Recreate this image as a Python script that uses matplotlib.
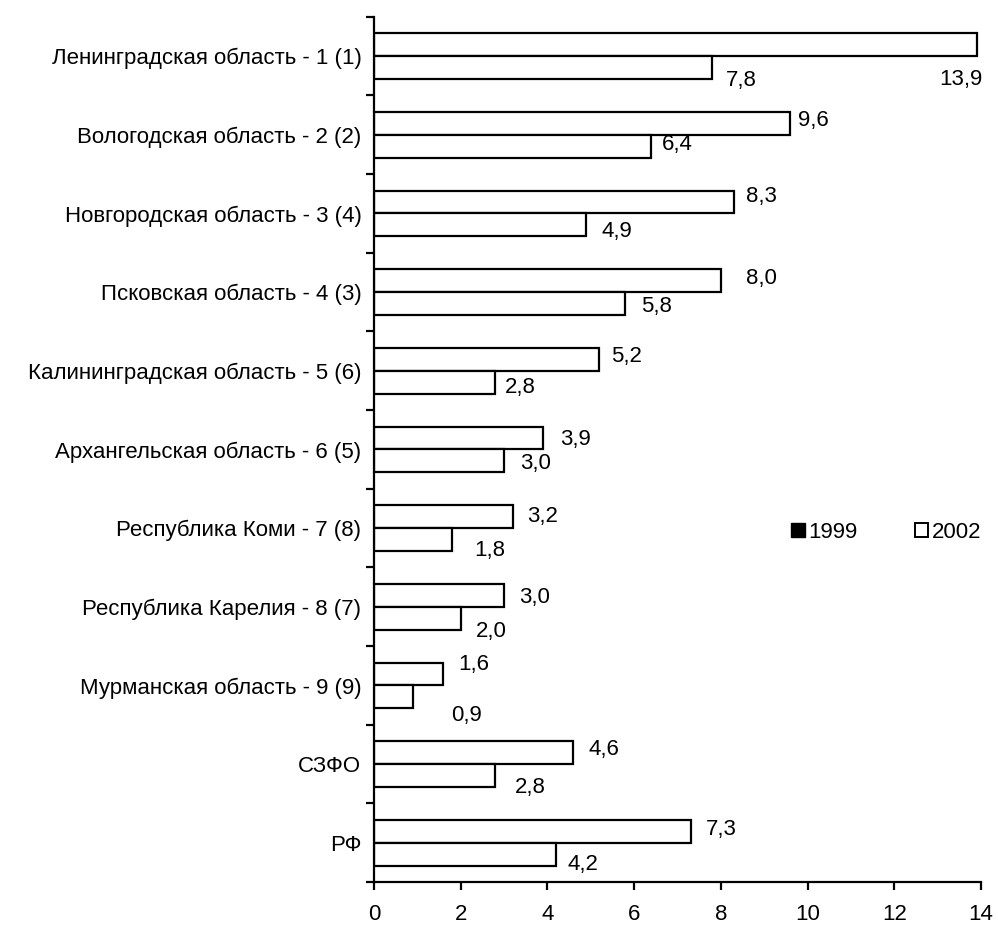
import matplotlib
matplotlib.use('Agg')
import matplotlib.pyplot as plt
from matplotlib.patches import Patch
import numpy as np

plt.rcParams['font.family'] = ['Liberation Sans', 'DejaVu Sans']

regions = ['Ленинградская область - 1 (1)', 'Вологодская область - 2 (2)',
           'Новгородская область - 3 (4)', 'Псковская область - 4 (3)',
           'Калининградская область - 5 (6)', 'Архангельская область - 6 (5)',
           'Республика Коми - 7 (8)', 'Республика Карелия - 8 (7)',
           'Мурманская область - 9 (9)', 'СЗФО', 'РФ']
v2002 = [13.9, 9.6, 8.3, 8.0, 5.2, 3.9, 3.2, 3.0, 1.6, 4.6, 7.3]
v1999 = [7.8, 6.4, 4.9, 5.8, 2.8, 3.0, 1.8, 2.0, 0.9, 2.8, 4.2]

# label offsets from the bar end (pixels; dy + is down), as placed in the original
dx2002 = [-16, 8, 12, 25, 12, 17, 14, 15, 15, 15, 15]
dy2002 = [35, -3, -5, -2, -3, 2, 0, 2, -9, -3, -2]
dx1999 = [14, 10, 15, 16, 10, 16, 22, 15, 38, 20, 11]
dy1999 = [13, -2, 7, 3, 5, 3, 11, 13, 19, 12, 10]

FS = 16

fig = plt.figure(figsize=(9.98, 9.27), dpi=100)
ax = fig.add_axes([0.3747, 0.0485, 0.6083, 0.9335])

y = np.arange(len(regions))
h = 0.29
ax.barh(y - h / 2, v2002, height=h, color='white', edgecolor='black', linewidth=1.6)
ax.barh(y + h / 2, v1999, height=h, color='white', edgecolor='black', linewidth=1.6)

def fmt(v):
    return ('%.1f' % v).replace('.', ',')

for i in range(len(regions)):
    ha = 'center' if dx2002[i] < 0 else 'left'
    ax.annotate(fmt(v2002[i]), (v2002[i], y[i] - h / 2), xytext=(dx2002[i], -dy2002[i]),
                textcoords='offset pixels', ha=ha, va='center', fontsize=FS)
    ax.annotate(fmt(v1999[i]), (v1999[i], y[i] + h / 2), xytext=(dx1999[i], -dy1999[i]),
                textcoords='offset pixels', ha='left', va='center', fontsize=FS)

ax.set_xlim(0, 14)
ax.set_ylim(len(regions) - 0.5, -0.5)
ax.set_xticks(range(0, 15, 2))
ax.set_yticks(y)
ax.set_yticklabels(regions)
ax.set_yticks(np.arange(len(regions) + 1) - 0.5, minor=True)
ax.tick_params(axis='y', which='major', length=0, pad=9, labelsize=FS)
ax.tick_params(axis='y', which='minor', length=6, width=1.6, direction='out')
ax.tick_params(axis='x', length=6, width=1.6, direction='out', pad=10, labelsize=FS)

for s in ['top', 'right']:
    ax.spines[s].set_visible(False)
for s in ['left', 'bottom']:
    ax.spines[s].set_linewidth(1.6)

handles = [Patch(facecolor='black', edgecolor='black', label='1999'),
           Patch(facecolor='white', edgecolor='black', linewidth=1.4, label='2002')]
fig.legend(handles=handles, loc='center', bbox_to_anchor=(0.888, 0.426), ncol=2,
           frameon=False, fontsize=FS, handlelength=0.6, handleheight=0.6,
           handletextpad=0.15, columnspacing=2.6)

fig.savefig('out.png', dpi=100)
